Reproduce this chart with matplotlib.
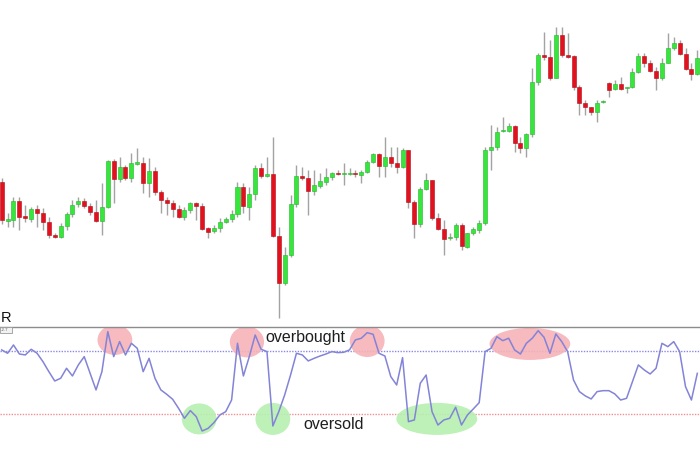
import numpy as np
import matplotlib
matplotlib.use("Agg")
import matplotlib.pyplot as plt
from matplotlib.patches import Ellipse, Rectangle

plt.rcParams['font.family'] = ['Liberation Sans', 'DejaVu Sans']

# ---------------- data ----------------
opens = [148, 109, 110, 129, 114, 111, 121, 117, 108, 95, 93, 104, 116, 126, 129, 124, 118, 109, 123, 169,
         151, 163, 152, 166, 167, 147, 159, 138, 130, 127, 121, 113, 120, 127, 124, 102, 99, 102, 108, 111,
         116, 143, 123, 136, 162, 154, 156, 94, 47, 75, 126, 154, 152, 139, 144, 148, 153, 157, 156, 156,
         157, 155, 158, 168, 176, 164, 173, 167, 163, 180, 128, 106, 141, 150, 112, 101, 92, 93, 105, 83,
         97, 100, 107, 180, 183, 199, 199, 204, 187, 182, 196, 248, 275, 273, 252, 295, 275, 274, 243, 227,
         223, 218, 228, 247, 241, 246, 242, 243, 258, 274, 267, 259, 252, 267, 282, 287, 276, 261, 256]
highs = [152, 117, 133, 133, 125, 123, 125, 122, 113, 97, 107, 118, 130, 133, 132, 127, 130, 147, 170, 171,
         173, 165, 177, 182, 173, 172, 163, 140, 133, 130, 125, 123, 128, 128, 127, 103, 105, 112, 113, 120,
         148, 147, 143, 165, 167, 173, 193, 103, 83, 135, 165, 163, 160, 160, 157, 162, 158, 160, 167, 162,
         160, 160, 170, 177, 177, 193, 183, 183, 182, 180, 130, 143, 157, 150, 117, 110, 97, 107, 107, 97,
         103, 110, 183, 205, 203, 213, 207, 205, 193, 197, 262, 277, 298, 290, 303, 303, 297, 275, 245, 230,
         223, 230, 230, 248, 250, 253, 243, 262, 277, 277, 270, 263, 272, 297, 293, 290, 282, 267, 280]
lows = [106, 103, 103, 100, 108, 108, 103, 100, 92, 92, 92, 100, 113, 123, 122, 115, 108, 95, 122, 127,
        148, 150, 148, 165, 137, 133, 135, 117, 115, 113, 112, 110, 117, 110, 100, 92, 97, 98, 107, 108,
        113, 117, 110, 130, 152, 153, 93, 12, 45, 73, 123, 150, 115, 135, 142, 145, 150, 155, 145, 155,
        153, 147, 157, 167, 153, 153, 163, 157, 162, 122, 92, 103, 140, 110, 100, 75, 90, 90, 80, 82,
        95, 97, 105, 160, 180, 198, 198, 178, 177, 173, 193, 245, 270, 250, 252, 273, 272, 240, 215, 215,
        215, 208, 227, 233, 240, 240, 237, 242, 257, 263, 258, 240, 250, 267, 280, 275, 260, 250, 255]
closes = [110, 111, 129, 113, 112, 121, 117, 108, 95, 93, 104, 116, 125, 129, 124, 118, 109, 123, 169, 151,
          163, 152, 167, 168, 147, 159, 138, 130, 127, 121, 113, 120, 127, 124, 101, 98, 102, 108, 111, 116,
          143, 124, 136, 162, 154, 156, 94, 47, 75, 126, 154, 152, 139, 145, 149, 153, 157, 156, 157, 157,
          156, 158, 168, 176, 164, 173, 167, 163, 180, 128, 106, 141, 150, 112, 101, 91, 93, 105, 84, 97,
          101, 107, 180, 183, 198, 200, 204, 187, 182, 196, 248, 275, 273, 252, 295, 275, 273, 243, 227, 223,
          218, 227, 229, 240, 246, 241, 243, 258, 274, 267, 259, 252, 267, 282, 287, 276, 261, 256, 272]

williams_r = [-19.0, -22.2, -14.3, -22.9, -23.8, -18.4, -22.2, -30.2, -39.7, -48.6,
              -46.0, -36.5, -43.8, -33.3, -25.4, -41.3, -57.1, -39.7, -1.6, -25.4,
              -11.1, -23.8, -12.7, -17.5, -39.7, -27.0, -46.0, -57.1, -61.3, -66.0,
              -74.6, -84.1, -76.8, -82.5, -96.2, -93.7, -88.3, -81.0, -77.8, -66.7,
              -12.7, -43.8, -25.4, -4.8, -18.4, -20.6, -91.4, -77.8, -61.9, -42.9,
              -22.2, -23.8, -29.5, -27.0, -24.8, -22.9, -20.6, -21.6, -21.3, -19.0,
              -9.5, -7.9, -2.6, -4.1, -22.2, -24.8, -44.4, -52.4, -26.3, -87.3,
              -85.7, -50.8, -42.9, -77.8, -90.5, -85.7, -84.1, -73.6, -90.5, -81.0,
              -75.2, -69.2, -20.6, -17.5, -6.4, -10.2, -7.9, -19.0, -22.9, -12.7,
              -7.9, -0.7, -7.0, -22.2, -3.8, -11.1, -20.6, -47.6, -58.7, -62.8,
              -65.7, -58.7, -57.8, -57.8, -60.9, -66.7, -65.1, -49.2, -33.3, -38.1,
              -41.9, -36.5, -12.7, -15.9, -11.1, -20.6, -54.0, -66.7, -41.3]

overbought_level = -20
oversold_level = -80

# ---------------- figure ----------------
W, H = 700, 450
fig = plt.figure(figsize=(7, 4.5), dpi=100)
fig.patch.set_facecolor('white')

step = 5.895
x0 = 1.7
xlim = (-x0 / step, (W - x0) / step)

ax = fig.add_axes([0, 124 / H, 1, 326 / H])
ax.set_xlim(*xlim)
ax.set_ylim(4, 330)
ax.axis('off')

o = np.array(opens, float)
c = np.array(closes, float)
hi = np.array(highs, float)
lo = np.array(lows, float)
xs = np.arange(len(o))

up = c >= o
green = '#36e63c'
red = '#e3111e'
colors = [green if u else red for u in up]
edge = ['#22b428' if u else '#b00c18' for u in up]

ax.vlines(xs, lo, hi, color='#a3a3a3', lw=1.0, zorder=1)
body_bottom = np.minimum(o, c)
body_h = np.maximum(np.abs(c - o), 1.2)
ax.bar(xs, body_h, bottom=body_bottom, width=0.68, color=colors,
       edgecolor=edge, linewidth=0.4, zorder=2)

# ---------------- indicator panel ----------------
ax2 = fig.add_axes([0, 0, 1, 123.3 / H])
ax2.set_xlim(*xlim)
ax2.set_ylim(-114.3, 3.1)
for s in ['left', 'right', 'bottom']:
    ax2.spines[s].set_visible(False)
ax2.spines['top'].set_color('#8c8c8c')
ax2.spines['top'].set_linewidth(1.0)
ax2.set_xticks([])
ax2.set_yticks([])
ax2.patch.set_alpha(0)

ax2.axhline(overbought_level, color='#8a8ae6', lw=1.0, ls=(0, (1, 1)), zorder=1)
ax2.axhline(oversold_level, color='#f09090', lw=1.0, ls=(0, (1, 1)), zorder=1)

red_fill = '#f5b3b8'
green_fill = '#b6f0b0'
for (cx, cy, w, h) in [(19.2, -9.5, 5.9, 28.6), (41.6, -11.4, 5.8, 29.5),
                       (62.0, -10.5, 5.9, 30.5), (89.6, -13.3, 13.7, 30.5)]:
    ax2.add_patch(Ellipse((cx, cy), w, h, facecolor=red_fill, edgecolor='none',
                          alpha=0.9, zorder=2))
for (cx, cy, w, h) in [(33.5, -84.7, 5.9, 29.5), (46.0, -84.7, 5.9, 30.5),
                       (73.8, -84.7, 13.7, 30.5)]:
    ax2.add_patch(Ellipse((cx, cy), w, h, facecolor=green_fill, edgecolor='none',
                          alpha=0.9, zorder=2))

ax2.plot(np.arange(len(williams_r)), williams_r, color='#8383d8', lw=1.1, zorder=3)

ax2.text(44.7, -7.6, 'overbought', fontsize=11.5, color='#1e1e1e', ha='left',
         va='center', zorder=4)
ax2.text(51.1, -90.4, 'oversold', fontsize=11.5, color='#1e1e1e', ha='left',
         va='center', zorder=4)

# indicator label at the left edge
fig.text(0.5 / W, 1 - 322 / H, 'R', ha='left', va='baseline', fontsize=10.5,
         color='#111111')
fig.add_artist(Rectangle((0, 1 - 333 / H), 12 / W, 6 / H, transform=fig.transFigure,
                         facecolor='#f2f2f2', edgecolor='#9a9a9a', lw=0.6))
fig.text(1 / W, 1 - 330 / H, '-2.7', ha='left', va='center', fontsize=3.2,
         color='#666666')

fig.savefig('out.png', dpi=100)
